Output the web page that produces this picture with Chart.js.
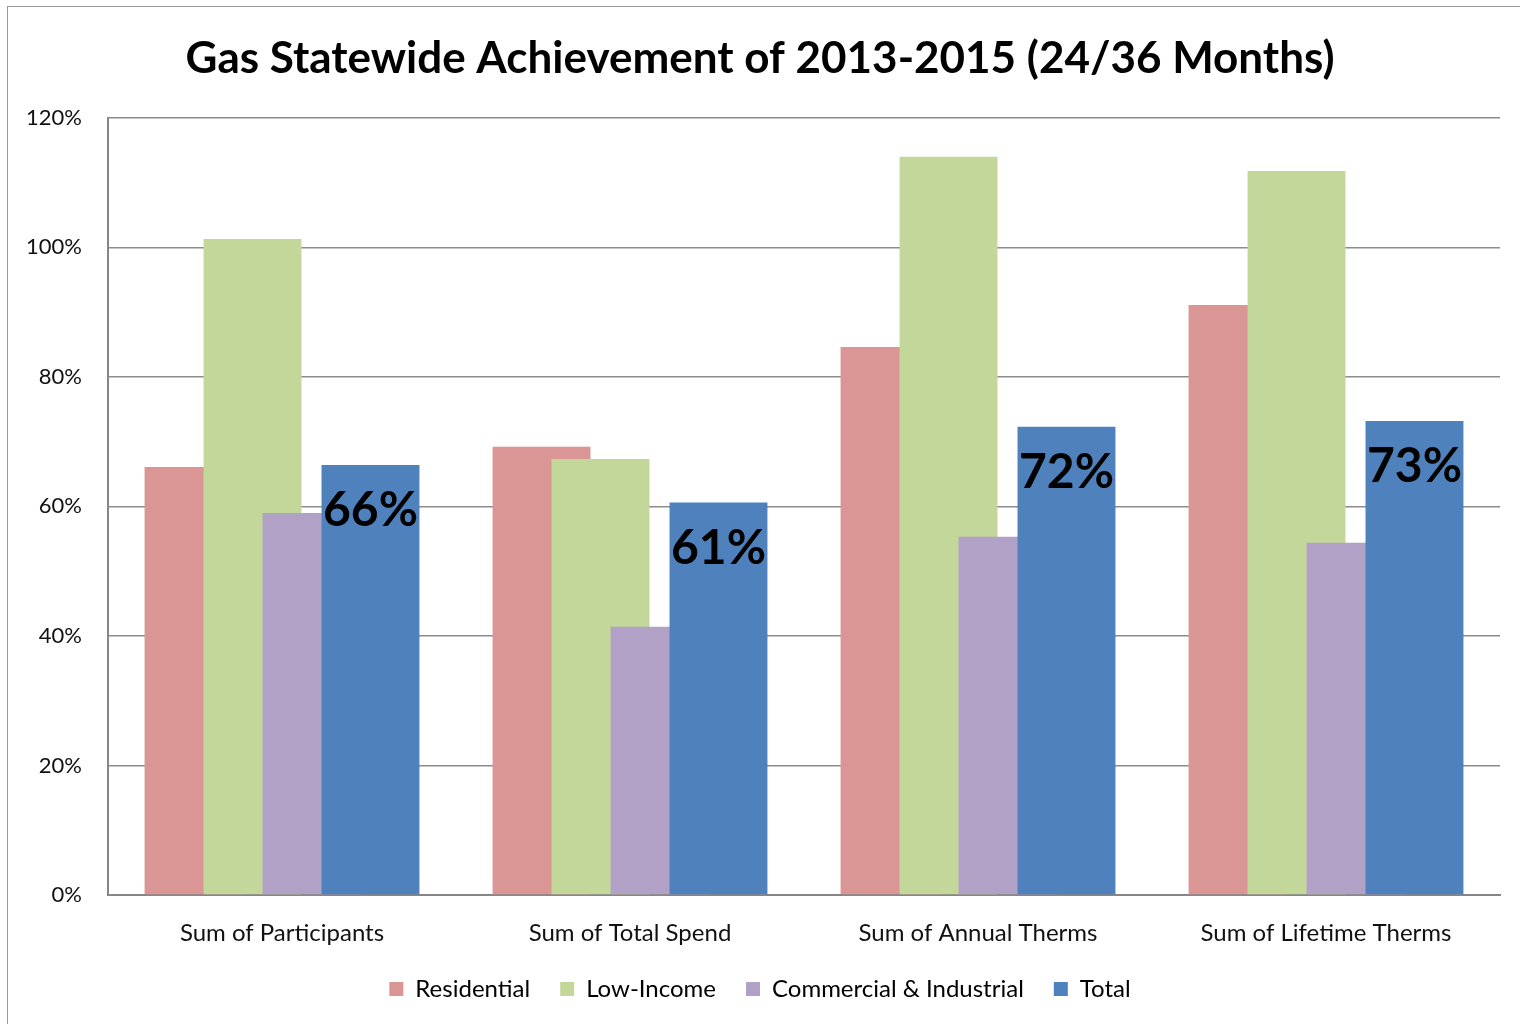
<!DOCTYPE html>
<html>
<head>
<meta charset="utf-8">
<script src="https://cdn.jsdelivr.net/npm/chart.js@4.4.0/dist/chart.umd.min.js"></script>
<style>
body{margin:0;background:#fff}
#wrap{position:relative;width:1520px;height:1024px;overflow:hidden;background:#fff}
#frame{position:absolute;left:7px;top:6px;width:1600px;height:1100px;border:1px solid #9a9a9a;pointer-events:none}
</style>
</head>
<body>
<div id="wrap"><canvas id="achChart" width="1520" height="1024"></canvas><div id="frame"></div></div>
<script>
let categories=["Sum of Participants","Sum of Total Spend","Sum of Annual Therms","Sum of Lifetime Therms"]
let seriesNames=["Residential","Low-Income","Commercial & Industrial","Total"]
let residential=[66.1,69.2,84.6,91.1]
let lowIncome=[101.3,67.3,114.0,111.8]
let commercial=[59.0,41.4,55.3,54.4]
let total=[66.4,60.6,72.3,73.2]
let yMax=120
let yStep=20

let barColors=["#D99694","#C4D79B","#B2A1C7","#4F81BD"]
let barWiden=1.66   // excel style overlap: each bar is wider than its slot
let fontFam="Lato, 'Open Sans', sans-serif"

// widen bars so they overlap, and draw later series on top
const overlapBars={
  id:"overlapBars",
  afterDatasetsUpdate(chart){
    chart.data.datasets.forEach((ds,i)=>{
      chart.getDatasetMeta(i).data.forEach(bar=>{ bar.width=bar.width*barWiden })
    })
  },
  beforeDatasetsDraw(chart){
    chart.data.datasets.forEach((ds,i)=>{ chart.getDatasetMeta(i).controller.draw() })
    return false
  }
}

// big labels on the Total bars
const totalLabels={
  id:"totalLabels",
  afterDraw(chart){
    let ctx=chart.ctx
    let meta=chart.getDatasetMeta(3)
    ctx.save()
    ctx.font="bold 48px "+fontFam
    ctx.fillStyle="#000"
    ctx.textAlign="center"
    ctx.textBaseline="middle"
    meta.data.forEach((bar,i)=>{
      ctx.fillText(Math.round(total[i])+"%",bar.x,bar.y+46)
    })
    ctx.restore()
  }
}

window.onload=()=>{
  new Chart("achChart",{
    type:"bar",
    data:{
      labels:categories,
      datasets:[
        {label:seriesNames[0],data:residential,backgroundColor:barColors[0]},
        {label:seriesNames[1],data:lowIncome,backgroundColor:barColors[1]},
        {label:seriesNames[2],data:commercial,backgroundColor:barColors[2]},
        {label:seriesNames[3],data:total,backgroundColor:barColors[3]}
      ]
    },
    options:{
      responsive:false,
      animation:false,
      devicePixelRatio:1,
      categoryPercentage:0.678,
      barPercentage:1,
      layout:{padding:{left:20,right:20,top:0,bottom:13}},
      plugins:{
        title:{
          display:true,
          text:"Gas Statewide Achievement of 2013-2015 (24/36 Months)",
          color:"#000",
          font:{family:fontFam,size:44,weight:"bold"},
          padding:{top:32,bottom:33}
        },
        legend:{
          position:"bottom",
          labels:{
            color:"#000",
            font:{family:fontFam,size:24},
            boxWidth:14,
            boxHeight:14,
            padding:30
          }
        },
        tooltip:{enabled:false}
      },
      scales:{
        x:{
          grid:{display:false,drawTicks:false},
          border:{color:"#868686",width:2},
          ticks:{color:"#111",font:{family:fontFam,size:24},padding:24,maxRotation:0},
          afterFit(scale){ scale.height=52 }
        },
        y:{
          min:0,
          max:yMax,
          ticks:{stepSize:yStep,color:"#111",font:{family:fontFam,size:22},padding:26,callback:v=>v+"%"},
          grid:{color:"#8c8c8c",lineWidth:1.5,drawTicks:false},
          border:{color:"#868686",width:2},
          afterFit(scale){ scale.width=88 }
        }
      }
    },
    plugins:[overlapBars,totalLabels]
  })
}
</script>
</body>
</html>
